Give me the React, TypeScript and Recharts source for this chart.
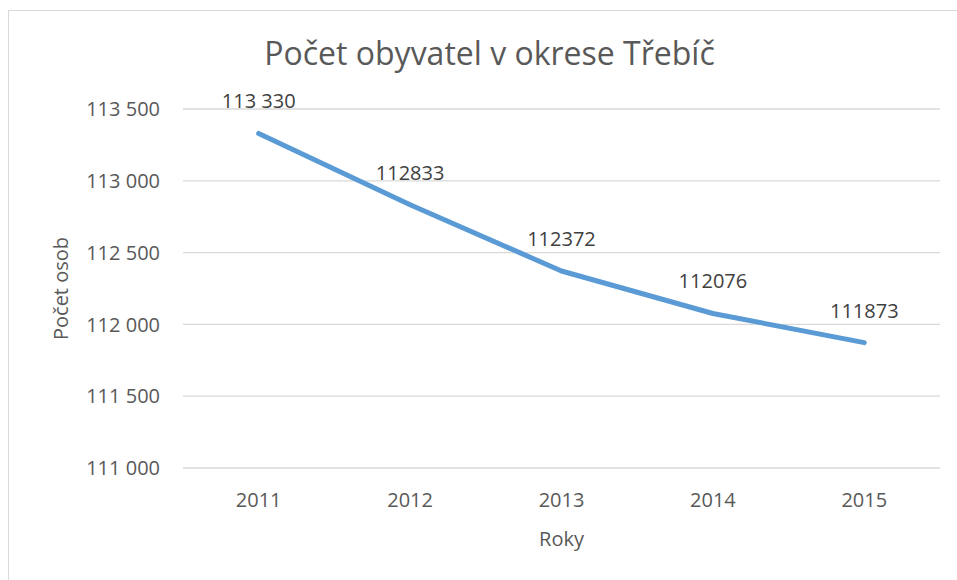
import React from 'react';
import { LineChart, CartesianGrid, XAxis, YAxis, Line, LabelList, Label } from 'recharts';

const years = ['2011', '2012', '2013', '2014', '2015'];
const population = [113330, 112833, 112372, 112076, 111873];
const pointLabels = ['113 330', '112833', '112372', '112076', '111873'];
const yTicks = [111000, 111500, 112000, 112500, 113000, 113500];

const chartData = years.map((year, i) => ({
    year,
    population: population[i],
    label: pointLabels[i],
}));

const FONT = '"Open Sans", sans-serif';

// 113500 -> "113 500"
const spaced = (v: number) => String(v).replace(/\B(?=(\d{3})+(?!\d))/g, ' ');

const App = () => {
    return (
        <div style={{ position: 'fixed', left: 0, top: 0, width: 957, height: 580, overflow: 'hidden', background: '#fff' }}>
            <div
                style={{
                    position: 'absolute',
                    left: 8,
                    top: 10,
                    width: 970,
                    height: 600,
                    border: '1px solid #d9d9d9',
                    fontFamily: FONT,
                }}>
                <div
                    style={{
                        position: 'absolute',
                        left: 0,
                        top: 20,
                        width: 961,
                        textAlign: 'center',
                        fontSize: 32,
                        lineHeight: '44px',
                        color: '#595959',
                    }}>
                    Počet obyvatel v okrese Třebíč
                </div>
                <LineChart
                    width={949}
                    height={570}
                    data={chartData}
                    margin={{ top: 98, right: 18, bottom: 0, left: 0 }}
                    style={{ fontFamily: FONT }}>
                    <CartesianGrid vertical={false} stroke="#d9d9d9" strokeWidth={1.3} />
                    <XAxis
                        dataKey="year"
                        axisLine={false}
                        tickLine={false}
                        tickSize={0}
                        tickMargin={25}
                        height={113}
                        padding={{ left: 75.7, right: 75.7 }}
                        tick={{ fill: '#595959', fontSize: 20 }}>
                        <Label
                            content={({ viewBox }: any) => (
                                <text
                                    x={viewBox.x + viewBox.width / 2}
                                    y={viewBox.y + 78}
                                    textAnchor="middle"
                                    fill="#595959"
                                    fontSize={20}>
                                    Roky
                                </text>
                            )}
                        />
                    </XAxis>
                    <YAxis
                        domain={[111000, 113500]}
                        ticks={yTicks}
                        interval={0}
                        width={174}
                        axisLine={false}
                        tickLine={false}
                        tickSize={0}
                        tickMargin={23}
                        tickFormatter={spaced}
                        tick={{ fill: '#595959', fontSize: 20 }}>
                        <Label
                            content={({ viewBox }: any) => {
                                const cx = viewBox.x + 59;
                                const cy = viewBox.y + viewBox.height / 2;
                                return (
                                    <text
                                        x={cx}
                                        y={cy}
                                        transform={`rotate(-90, ${cx}, ${cy})`}
                                        textAnchor="middle"
                                        fill="#595959"
                                        fontSize={20}>
                                        Počet osob
                                    </text>
                                );
                            }}
                        />
                    </YAxis>
                    <Line
                        type="linear"
                        dataKey="population"
                        stroke="#5b9bd5"
                        strokeWidth={5}
                        strokeLinecap="round"
                        strokeLinejoin="round"
                        dot={false}
                        activeDot={false}
                        isAnimationActive={false}>
                        <LabelList dataKey="label" position="top" offset={25} fill="#404040" fontSize={20} />
                    </Line>
                </LineChart>
            </div>
        </div>
    );
};

export default App;
